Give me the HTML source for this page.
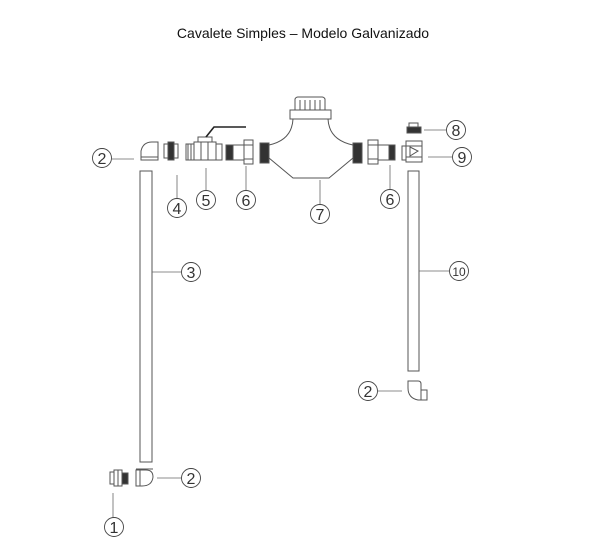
<!DOCTYPE html>
<html><head><style>body{margin:0;background:#fff}svg{display:block}</style></head><body>
<svg width="612" height="549" viewBox="0 0 612 549" xmlns="http://www.w3.org/2000/svg" font-family="Liberation Sans, sans-serif">
<rect width="612" height="549" fill="#fff"/>
<text x="303" y="38" font-size="14" text-anchor="middle" fill="#111">Cavalete Simples – Modelo Galvanizado</text>
<g fill="none" stroke="#555" stroke-width="1">
<!-- pipes -->
<rect x="140" y="171" width="12" height="291"/>
<rect x="408" y="171" width="11" height="200"/>
<!-- top-left elbow -->
<path d="M141 160 V151 Q143 142 152 142 H158 V160 Z"/>
<line x1="141" y1="157" x2="158" y2="157"/>
<!-- nipple 4 -->
<rect x="164" y="144" width="4" height="14"/><rect x="174" y="144" width="4" height="14"/>
<rect x="168" y="142" width="6" height="18" fill="#333"/>
<!-- valve 5 -->
<rect x="186" y="144" width="8" height="16"/><line x1="188" y1="144" x2="188" y2="160"/><line x1="191" y1="144" x2="191" y2="160"/>
<rect x="194" y="142" width="22" height="18"/><line x1="201" y1="142" x2="201" y2="160"/><line x1="208" y1="142" x2="208" y2="160"/>
<rect x="216" y="144" width="6" height="16"/>
<path d="M198 142 V137 H212 V142"/>
<path d="M206 137 L214 127 H246" stroke="#222" stroke-width="1.6"/>
<!-- union 6 left -->
<rect x="226" y="145" width="7" height="15" fill="#333"/>
<rect x="233" y="145" width="11" height="15"/>
<rect x="244" y="140" width="9" height="24"/><line x1="244" y1="145" x2="253" y2="145"/><line x1="244" y1="159" x2="253" y2="159"/>
<!-- meter -->
<rect x="260" y="143" width="9" height="20" fill="#333"/>
<rect x="353" y="143" width="9" height="20" fill="#333"/>
<rect x="290" y="110" width="41" height="9"/>
<path d="M295 110 V99 Q296 97 298 97 H322 Q324 97 325 99 V110"/>
<line x1="300" y1="100" x2="300" y2="110"/><line x1="305" y1="100" x2="305" y2="110"/><line x1="310" y1="100" x2="310" y2="110"/><line x1="315" y1="100" x2="315" y2="110"/><line x1="320" y1="100" x2="320" y2="110"/>
<path d="M293 119 Q292 140 269 145"/>
<path d="M328 119 Q329 140 353 145"/>
<path d="M269 158 L293 178 H329 L353 158"/>
<!-- union 6 right -->
<rect x="368" y="140" width="10" height="24"/><line x1="368" y1="145" x2="378" y2="145"/><line x1="368" y1="159" x2="378" y2="159"/>
<rect x="378" y="145" width="11" height="15"/>
<rect x="389" y="145" width="6" height="15" fill="#333"/>
<!-- 8 cap -->
<rect x="409" y="123" width="9" height="4"/>
<rect x="407" y="127" width="14" height="6" fill="#333"/>
<!-- 9 tee -->
<rect x="402" y="146" width="4" height="14"/>
<rect x="406" y="141" width="16" height="21"/>
<line x1="406" y1="146" x2="422" y2="146"/><line x1="406" y1="157" x2="422" y2="157"/>
<path d="M410 147 L418 151 L410 156 Z"/>
<!-- bottom-right elbow -->
<path d="M408 381 H418 Q421 381 421 384 V390 H427 V400 H418 Q408 398 408 388 Z"/>
<line x1="421" y1="390" x2="421" y2="400"/>
<!-- bottom-left elbow -->
<path d="M136 486 V470 H146 Q153 470 153 477 Q152 486 142 486 Z"/>
<line x1="136" y1="469" x2="153" y2="469"/><line x1="140" y1="470" x2="140" y2="486"/>
<!-- item 1 -->
<rect x="110" y="472" width="4" height="12"/>
<rect x="114" y="470" width="8" height="16"/><line x1="118" y1="470" x2="118" y2="486"/>
<rect x="122" y="473" width="6" height="11" fill="#333"/>
</g>
<!-- leader lines -->
<g stroke="#666" stroke-width="0.8">
<line x1="112" y1="159" x2="134" y2="159"/>
<line x1="177" y1="175" x2="177" y2="199"/>
<line x1="206" y1="168" x2="206" y2="190"/>
<line x1="246" y1="166" x2="246" y2="190"/>
<line x1="320" y1="180" x2="320" y2="204"/>
<line x1="390" y1="165" x2="390" y2="189"/>
<line x1="424" y1="130" x2="446" y2="130"/>
<line x1="428" y1="157" x2="452" y2="157"/>
<line x1="152" y1="272" x2="182" y2="272"/>
<line x1="419" y1="271" x2="449" y2="271"/>
<line x1="378" y1="391" x2="402" y2="391"/>
<line x1="157" y1="478" x2="182" y2="478"/>
<line x1="113" y1="493" x2="113" y2="517"/>
</g>
<g fill="#fff" stroke="#444" stroke-width="0.9">
<circle cx="102" cy="158" r="9.5"/><circle cx="177" cy="208" r="9.5"/><circle cx="206" cy="200" r="9.5"/>
<circle cx="246" cy="200" r="9.5"/><circle cx="320" cy="214" r="9.5"/><circle cx="390" cy="199" r="9.5"/>
<circle cx="456" cy="130" r="9.5"/><circle cx="462" cy="157" r="9.5"/><circle cx="191" cy="272" r="9.5"/>
<circle cx="459" cy="271" r="9.5"/><circle cx="368" cy="391" r="9.5"/><circle cx="191" cy="478" r="9.5"/>
<circle cx="114" cy="527" r="9.5"/>
</g>
<g font-size="16" text-anchor="middle" fill="#333">
<text x="102" y="164">2</text><text x="177" y="214">4</text><text x="206" y="206">5</text>
<text x="246" y="206">6</text><text x="320" y="220">7</text><text x="390" y="205">6</text>
<text x="456" y="136">8</text><text x="462" y="163">9</text><text x="191" y="278">3</text>
<text x="459" y="276" font-size="12">10</text><text x="368" y="397">2</text><text x="191" y="484">2</text>
<text x="114" y="533">1</text>
</g>
</svg>
</body></html>
